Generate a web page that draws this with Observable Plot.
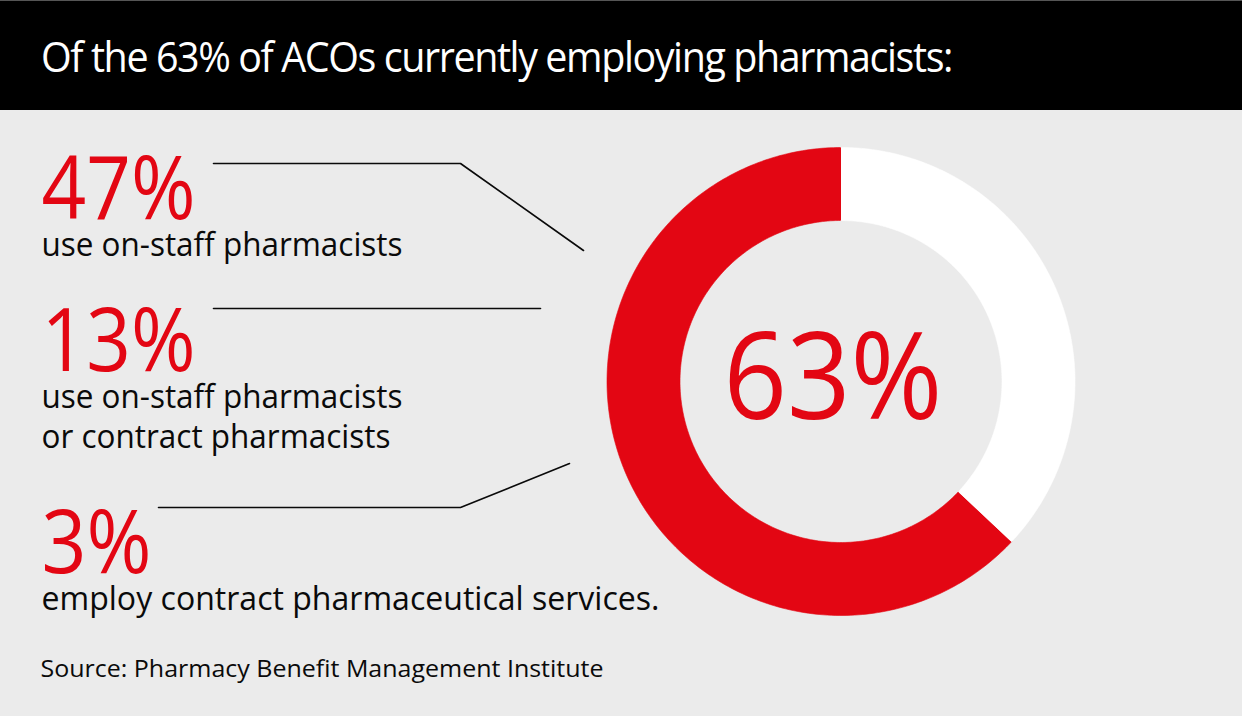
<!DOCTYPE html>
<html>
<head>
<meta charset="utf-8">
<script src="https://cdn.jsdelivr.net/npm/d3@7"></script>
<script src="https://cdn.jsdelivr.net/npm/@observablehq/plot@0.6"></script>
<style>
  html, body { margin: 0; padding: 0; background: #ebebeb; }
  #wrap { width: 1242px; height: 716px; overflow: hidden; position: relative; background: #ebebeb; }
  #header { height: 109px; background: #000; border-top: 1px solid #555; position: relative; overflow: hidden; }
  #title { position: absolute; left: 41px; top: 34px; color: #fff; font-family: "Open Sans", sans-serif;
           font-size: 42px; line-height: 42px; white-space: nowrap; transform-origin: 0 0; letter-spacing: -1.5px; }
  #chart svg { display: block; }
</style>
</head>
<body>
<div id="wrap">
  <div id="header"><span id="title"></span></div>
  <div id="chart"></div>
</div>
<script>
// ---------- data ----------
const title = "Of the 63% of ACOs currently employing pharmacists:";
const segments = ["employing pharmacists", "not employing"];
const segmentValues = [63, 37];
const centerLabel = "63%";
const statLabels = ["47%", "13%", "3%"];
const statValues = [47, 13, 3];
const statDescriptions = [
  ["use on-staff pharmacists"],
  ["use on-staff pharmacists", "or contract pharmacists"],
  ["employ contract pharmaceutical services."]
];
const source = "Source: Pharmacy Benefit Management Institute";

// ---------- layout (pixels) ----------
const W = 1242, H = 606;
const RED = "#e30613", WHITE = "#ffffff", INK = "#0a0a0a", BG = "#ebebeb";
const donut = {cx: 840.5, cy: 271, R: 234, r: 161};
const statX = 41, statBaselines = [108, 260, 462], statSize = 88;
const statWidths = [154, 154, 110];
const descBaselines = [[145], [297, 337], [499]], descSize = 33;
const descWidths = [[361], [361, 349], [618]];
const sourceBaseline = 566, sourceSize = 24, sourceWidth = 563;
const centerPos = {x: 832.5, y: 308}, centerSize = 120, centerWidth = 219;
const connectors = [
  [[213, 53], [460, 53], [583, 140]],
  [[213, 198], [540, 198]],
  [[158, 397], [460, 397], [569, 353]]
];

// ---------- header ----------
const t = document.getElementById("title");
t.textContent = title;
function fitTitle() {
  t.style.transform = "none";
  const w = t.getBoundingClientRect().width;
  t.style.transform = `scaleX(${911 / w})`;
}
fitTitle();
if (document.fonts && document.fonts.ready) document.fonts.ready.then(fitTitle);

// ---------- donut geometry from data ----------
const tau = 2 * Math.PI;
const total = d3.sum(segmentValues);
const start = -tau * segmentValues[0] / total;
const arcs = d3.pie().sort(null).startAngle(start).endAngle(start + tau)(segmentValues);
function ring(a0, a1, n = 240) {
  const pts = [];
  for (let i = 0; i <= n; i++) { const a = a0 + (a1 - a0) * i / n; pts.push([donut.cx + donut.R * Math.sin(a), donut.cy - donut.R * Math.cos(a)]); }
  for (let i = n; i >= 0; i--) { const a = a0 + (a1 - a0) * i / n; pts.push([donut.cx + donut.r * Math.sin(a), donut.cy - donut.r * Math.cos(a)]); }
  return pts;
}
const ringPts = arcs.flatMap((a, i) => ring(a.startAngle, a.endAngle).map(([x, y]) => ({x, y, seg: segments[i]})));
const connPts = connectors.flatMap((c, i) => c.map(([x, y]) => ({x, y, id: statLabels[i]})));

const descRows = statDescriptions.flatMap((lines, i) => lines.map((s, j) => ({s, y: descBaselines[i][j], w: descWidths[i][j]})));
const font = "'Open Sans', sans-serif";

const plot = Plot.plot({
  width: W, height: H,
  margin: 0,
  style: {background: BG, fontFamily: font},
  x: {domain: [0, W], range: [0, W], axis: null},
  y: {domain: [0, H], range: [0, H], axis: null},
  color: {domain: segments, range: [RED, WHITE]},
  marks: [
    Plot.line(ringPts, {x: "x", y: "y", z: "seg", fill: "seg", stroke: "seg", strokeWidth: 0.6, curve: "linear"}),
    Plot.line(connPts, {x: "x", y: "y", z: "id", stroke: INK, strokeWidth: 1.6, strokeLinejoin: "miter"}),
    Plot.text([centerLabel], {x: centerPos.x, y: centerPos.y, text: d => d, fill: RED, fontSize: centerSize,
      fontFamily: font, textAnchor: "middle", lineAnchor: "bottom"}),
    Plot.text(statLabels, {x: statX, y: (d, i) => statBaselines[i], text: d => d, fill: RED, fontSize: statSize,
      fontFamily: font, textAnchor: "start", lineAnchor: "bottom"}),
    Plot.text(descRows, {x: statX, y: "y", text: "s", fill: INK, fontSize: descSize,
      fontFamily: font, textAnchor: "start", lineAnchor: "bottom"}),
    Plot.text([source], {x: statX - 1, y: sourceBaseline, text: d => d, fill: INK, fontSize: sourceSize,
      fontFamily: font, textAnchor: "start", lineAnchor: "bottom"})
  ]
});
document.getElementById("chart").appendChild(plot);

// fit widths of texts (narrow typeface imitation)
const widthByText = new Map();
widthByText.set(centerLabel, centerWidth);
statLabels.forEach((s, i) => widthByText.set(s, statWidths[i]));
descRows.forEach(r => widthByText.set(r.s, r.w));
widthByText.set(source, sourceWidth);
d3.select(plot).selectAll("text").each(function () {
  const s = this.textContent;
  if (widthByText.has(s)) {
    this.setAttribute("textLength", widthByText.get(s));
    this.setAttribute("lengthAdjust", "spacingAndGlyphs");
  }
});
</script>
</body>
</html>
